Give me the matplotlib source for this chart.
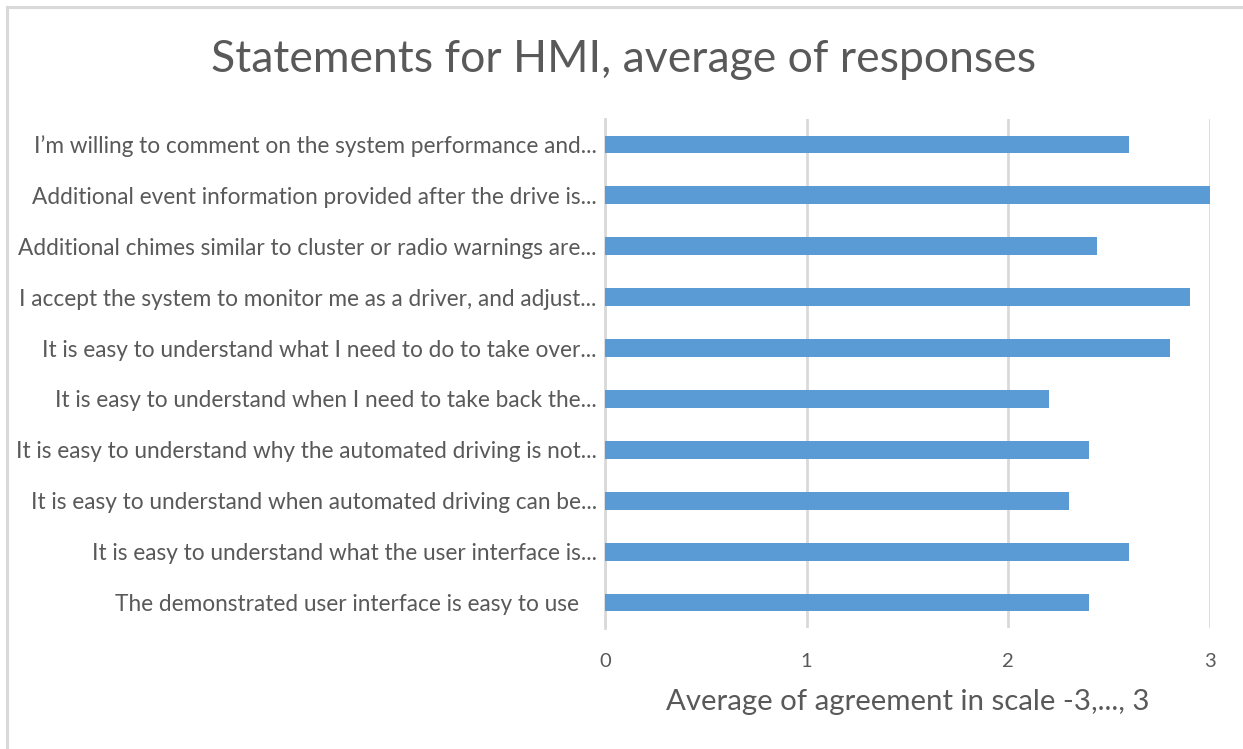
import matplotlib.pyplot as plt
from matplotlib.lines import Line2D

statements = [
    "I\u2019m willing to comment on the system performance and...",
    "Additional event information provided after the drive is...",
    "Additional chimes similar to cluster or radio warnings are...",
    "I accept the system to monitor me as a driver, and adjust...",
    "It is easy to understand what I need to do to take over...",
    "It is easy to understand when I need to take back the...",
    "It is easy to understand why the automated driving is not...",
    "It is easy to understand when automated driving can be...",
    "It is easy to understand what the user interface is...",
    "The demonstrated user interface is easy to use   ",
]
averages = [2.6, 3.0, 2.44, 2.9, 2.8, 2.2, 2.4, 2.3, 2.6, 2.4]
xticks = [0, 1, 2, 3]

plt.rcParams["font.family"] = ["Lato", "DejaVu Sans"]
text_color = "#595959"

fig = plt.figure(figsize=(12.43, 7.49), dpi=100)
ax = fig.add_axes([0.4867, 0.1615, 0.4868, 0.6796])

# only the top and left edges of the chart frame are visible
fig.lines.append(Line2D([0.0057, 1.0], [0.9913, 0.9913], transform=fig.transFigure,
                        color="#d9d9d9", linewidth=2.2))
fig.lines.append(Line2D([0.0057, 0.0057], [0.0, 0.9913], transform=fig.transFigure,
                        color="#d9d9d9", linewidth=2.2))

ypos = list(range(len(statements)))[::-1]
ax.barh(ypos, averages, height=0.35, color="#5b9bd5", zorder=3)

ax.set_xlim(0, 3)
ax.set_ylim(-0.5, len(statements) - 0.5)
ax.set_yticks(ypos)
ax.set_yticklabels(statements, fontsize=16.3, color=text_color)
ax.set_xticks(xticks)
ax.set_xticklabels([str(t) for t in xticks], fontsize=14.5, color=text_color)
ax.tick_params(axis="y", length=0, pad=6)
ax.tick_params(axis="x", length=0, pad=18)

ax.grid(axis="x", color="#d9d9d9", linewidth=2, zorder=0)
for s in ["top", "right", "bottom"]:
    ax.spines[s].set_visible(False)
ax.spines["left"].set_color("#d9d9d9")
ax.spines["left"].set_linewidth(2)

ax.set_xlabel("Average of agreement in scale -3,..., 3", fontsize=21.2,
              color=text_color, labelpad=14)
fig.text(0.502, 0.92, "Statements for HMI, average of responses", fontsize=32,
         color=text_color, ha="center", va="center")

fig.savefig("out.png", dpi=100)
